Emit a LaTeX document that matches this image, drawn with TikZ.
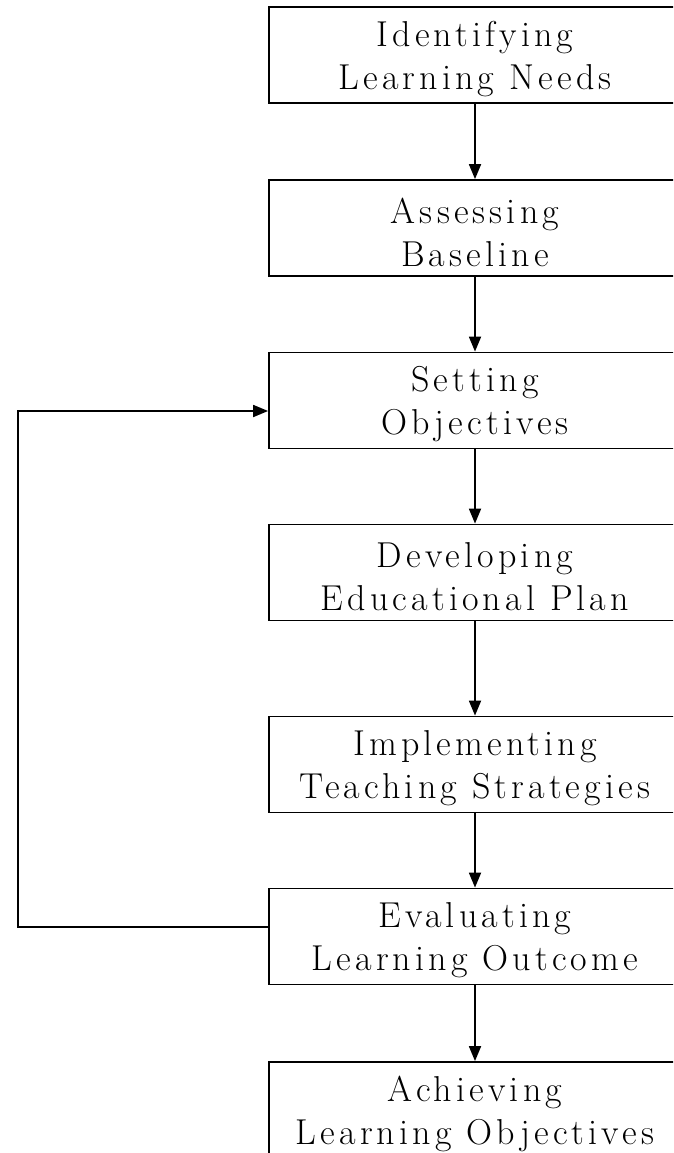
\documentclass[tikz,border=0pt]{standalone}
\usepackage{fontspec}
\setmainfont{Latin Modern Roman}[LetterSpace=11.5]
\usetikzlibrary{arrows.meta}
\begin{document}
\begin{tikzpicture}[x=1pt,y=1pt,
  stepbox/.style={draw, line width=1.8pt, minimum width=412pt, minimum height=96pt,
    inner sep=0pt,
    label={[align=center, inner sep=0pt, yshift=-4pt, font=\fontsize{36}{43}\selectfont]center:#1}},
  flow/.style={line width=1.8pt, -{Triangle[length=15pt,width=12pt]}}]
\useasboundingbox (0,0) rectangle (673,-1153);
\fill[white] (0,0) rectangle (673,-1153);
\clip (0,0) rectangle (673,-1153);
\node[stepbox={Identifying\\Learning Needs}] (n1) at (475,-55) {};
\node[stepbox={Assessing\\Baseline}] (n2) at (475,-228) {};
\node[stepbox={Setting\\Objectives}] (n3) at (475,-400.5) {};
\node[stepbox={Developing\\Educational Plan}] (n4) at (475,-572.5) {};
\node[stepbox={Implementing\\Teaching Strategies}] (n5) at (475,-764.5) {};
\node[stepbox={Evaluating\\Learning Outcome}] (n6) at (475,-936.5) {};
\node[stepbox={Achieving\\Learning Objectives}] (n7) at (475,-1110) {};
\draw[flow] (n1) -- (n2);
\draw[flow] (n2) -- (n3);
\draw[flow] (n3) -- (n4);
\draw[flow] (n4) -- (n5);
\draw[flow] (n5) -- (n6);
\draw[flow] (n6) -- (n7);
\coordinate (fb1) at (18,-927);
\coordinate (fb2) at (18,-411);
\draw[flow] (n6.west |- fb1) -- (fb1) -- (fb2) -- (n3.west |- fb2);
\end{tikzpicture}
\end{document}
